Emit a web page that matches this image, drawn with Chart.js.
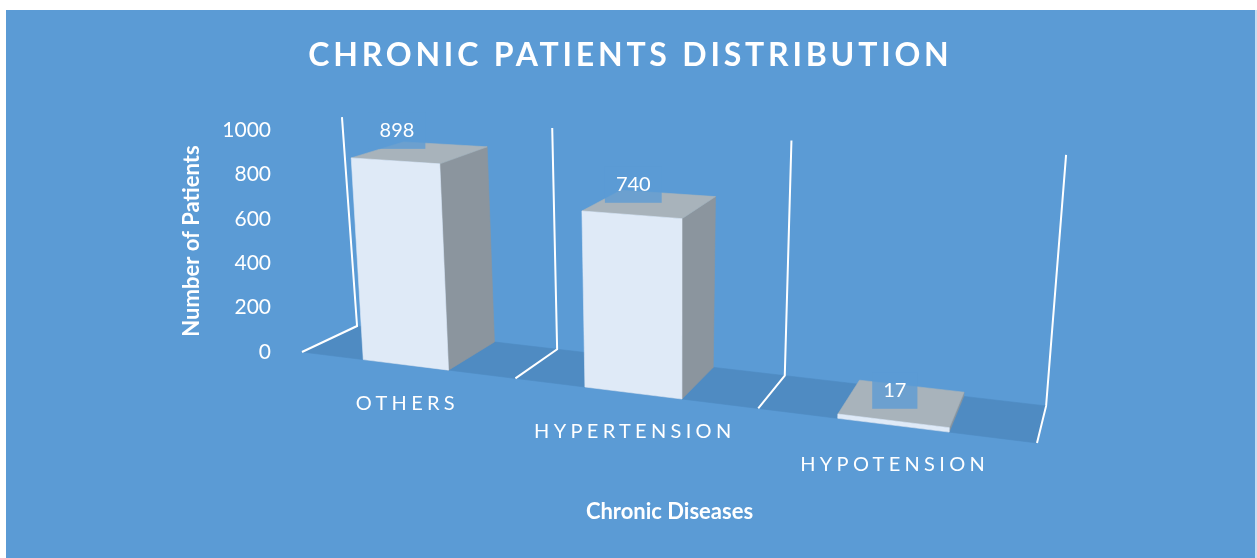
<!DOCTYPE html>
<html>
<head>
<meta charset="utf-8">
<script src="https://cdn.jsdelivr.net/npm/chart.js@4.4.1/dist/chart.umd.min.js"></script>
<style>
  html, body { margin: 0; padding: 0; background: #ffffff; overflow: hidden; }
  canvas { display: block; }
</style>
</head>
<body>
<canvas id="c" width="1257" height="558"></canvas>
<script>
// ---------------- data ----------------
const categories = ['OTHERS', 'HYPERTENSION', 'HYPOTENSION'];
const patientCounts = [898, 740, 17];
const yTickValues = [0, 200, 400, 600, 800, 1000];
const chartTitle = 'CHRONIC PATIENTS DISTRIBUTION';
const yAxisTitle = 'Number of Patients';
const xAxisTitle = 'Chronic Diseases';

// ---------------- style ----------------
const COLORS = {
  page: '#ffffff',
  background: '#5b9bd5',
  edge: '#c9ddf1',
  floor: '#4f8bc2',
  wall: '#ffffff',
  front: '#dfeaf7',
  side: '#8b959e',
  top: '#a8b3bb',
  labelBox: 'rgba(91,155,213,0.78)',
  text: '#ffffff'
};
const FONT = 'Lato, "Open Sans", "DejaVu Sans", sans-serif';

// 3-D view parameters (relative to the value-axis span)
const VIEW = {
  warp: 1.222,
  frontDrop: 0.1238,
  depthLeft: [0.248, -0.117],
  depthRight: [0.041, -0.167],
  upFrontLeft: [-0.072, -0.995],
  upFrontRight: [0.068, -1.194],
  upBackLeft: [-0.068, -0.941],
  upBackRight: [0.090, -1.131]
};

let PROJ = null;

function buildProjection(chart) {
  const xs = chart.scales.x, ys = chart.scales.y;
  const L = xs.left, R = xs.right, W = R - L;
  const y0 = ys.getPixelForValue(ys.min), y1 = ys.getPixelForValue(ys.max);
  const S = y0 - y1;
  const F0 = [L, y0];
  const F1 = [R, y0 + VIEW.frontDrop * W];
  const B0 = [F0[0] + VIEW.depthLeft[0] * S, F0[1] + VIEW.depthLeft[1] * S];
  const B1 = [F1[0] + VIEW.depthRight[0] * S, F1[1] + VIEW.depthRight[1] * S];
  const lerp = (a, b, t) => a + (b - a) * t;
  function pt(u, v, h) {
    const uw = u <= 0 ? 0 : (u >= 1 ? 1 : u / (u + VIEW.warp * (1 - u)));
    const fx = lerp(F0[0], F1[0], uw), fy = lerp(F0[1], F1[1], uw);
    const bx = lerp(B0[0], B1[0], uw), by = lerp(B0[1], B1[1], uw);
    const ufx = lerp(VIEW.upFrontLeft[0], VIEW.upFrontRight[0], uw);
    const ufy = lerp(VIEW.upFrontLeft[1], VIEW.upFrontRight[1], uw);
    const ubx = lerp(VIEW.upBackLeft[0], VIEW.upBackRight[0], uw);
    const uby = lerp(VIEW.upBackLeft[1], VIEW.upBackRight[1], uw);
    const ux = lerp(ufx, ubx, v), uy = lerp(ufy, uby, v);
    return [lerp(fx, bx, v) + ux * S * h, lerp(fy, by, v) + uy * S * h];
  }
  return {
    pt,
    u: (px) => (px - L) / W,
    h: (y, base) => (base - y) / S,
    L, R, W, S
  };
}

function poly(ctx, pts, fill) {
  ctx.beginPath();
  ctx.moveTo(pts[0][0], pts[0][1]);
  for (let i = 1; i < pts.length; i++) ctx.lineTo(pts[i][0], pts[i][1]);
  ctx.closePath();
  ctx.fillStyle = fill;
  ctx.fill();
  ctx.strokeStyle = fill;
  ctx.lineWidth = 0.6;
  ctx.stroke();
}

// ---------------- custom 3-D bar element / controller ----------------
class Bar3DElement extends Chart.BarElement {
  draw(ctx) {
    const P = PROJ;
    if (!P) return;
    const { x, y, base, width } = this.getProps(['x', 'y', 'base', 'width']);
    const u0 = P.u(x - width / 2), u1 = P.u(x + width / 2);
    const h = P.h(y, base);
    const p = P.pt;
    ctx.save();
    poly(ctx, [p(u1, 0, 0), p(u1, 1, 0), p(u1, 1, h), p(u1, 0, h)], COLORS.side);
    poly(ctx, [p(u0, 0, h), p(u1, 0, h), p(u1, 1, h), p(u0, 1, h)], COLORS.top);
    poly(ctx, [p(u0, 0, 0), p(u1, 0, 0), p(u1, 0, h), p(u0, 0, h)], this.options.backgroundColor || COLORS.front);
    ctx.restore();
  }
}
Bar3DElement.id = 'bar3d';

class Bar3DController extends Chart.BarController {}
Bar3DController.id = 'bar3d';
Bar3DController.defaults = Object.assign({}, Chart.BarController.defaults, { dataElementType: 'bar3d' });

Chart.register(Bar3DElement, Bar3DController);

// ---------------- plugins ----------------
const backgroundPlugin = {
  id: 'bg3d',
  beforeDraw(chart) {
    const ctx = chart.ctx;
    ctx.save();
    ctx.fillStyle = COLORS.page;
    ctx.fillRect(0, 0, chart.width, chart.height);
    ctx.fillStyle = COLORS.background;
    ctx.fillRect(6, 10, chart.width - 8, chart.height - 10);
    ctx.fillStyle = COLORS.edge;
    ctx.fillRect(chart.width - 2, 10, 2, chart.height - 10);
    ctx.restore();
    const tb = chart.titleBlock;
    if (tb && !tb.__spaced) {
      const orig = tb.draw;
      tb.draw = function (area) {
        const c = this.ctx;
        c.save();
        c.letterSpacing = '3.8px';
        c.translate(1.9, 0);
        orig.call(this, area);
        c.restore();
      };
      tb.__spaced = true;
    }
  },
  beforeDatasetsDraw(chart) {
    PROJ = buildProjection(chart);
    const ctx = chart.ctx, p = PROJ.pt;
    const n = chart.data.labels.length;
    ctx.save();
    poly(ctx, [p(0, 0, 0), p(1, 0, 0), p(1, 1, 0), p(0, 1, 0)], COLORS.floor);
    ctx.strokeStyle = COLORS.wall;
    ctx.lineWidth = 2;
    ctx.lineJoin = 'miter';
    for (let i = 0; i <= n; i++) {
      const u = i / n;
      const a = p(u, 0, 0), b = p(u, 1, 0), c = p(u, 1, 1);
      ctx.beginPath();
      ctx.moveTo(a[0], a[1]);
      ctx.lineTo(b[0], b[1]);
      ctx.lineTo(c[0], c[1]);
      ctx.stroke();
    }
    ctx.restore();
  },
  afterDatasetsDraw(chart) {
    const P = PROJ;
    if (!P) return;
    const ctx = chart.ctx;
    const meta = chart.getDatasetMeta(0);
    const values = chart.data.datasets[0].data;
    const xs = chart.scales.x;
    ctx.save();
    ctx.font = '20px ' + FONT;
    ctx.textAlign = 'center';
    ctx.textBaseline = 'middle';
    meta.data.forEach((el, i) => {
      const { x, y, base } = el.getProps(['x', 'y', 'base']);
      const a = P.pt(P.u(x), 0, P.h(y, base));
      const txt = String(values[i]);
      const tw = ctx.measureText(txt).width;
      ctx.fillStyle = COLORS.labelBox;
      ctx.fillRect(a[0] + 2 - tw / 2 - 11, a[1] - 48, tw + 22, 36);
      ctx.fillStyle = COLORS.text;
      ctx.fillText(txt, a[0] + 2, a[1] - 30);
    });
    ctx.font = '20px ' + FONT;
    ctx.letterSpacing = '4.3px';
    ctx.fillStyle = COLORS.text;
    xs.getLabels().forEach((lab, i) => {
      const a = P.pt(P.u(xs.getPixelForValue(i)), 0, 0);
      ctx.fillText(lab, a[0] + 2, a[1] + 39);
    });
    ctx.restore();
  }
};

// ---------------- chart ----------------
new Chart(document.getElementById('c'), {
  type: 'bar3d',
  data: {
    labels: categories,
    datasets: [{
      label: 'Number of Patients',
      data: patientCounts,
      backgroundColor: COLORS.front,
      categoryPercentage: 0.4,
      barPercentage: 1.0,
      clip: false
    }]
  },
  options: {
    responsive: false,
    animation: false,
    devicePixelRatio: 1,
    font: { family: FONT },
    layout: { padding: 0 },
    plugins: {
      legend: { display: false },
      tooltip: { enabled: false },
      title: {
        display: true,
        text: chartTitle,
        color: COLORS.text,
        font: { family: FONT, size: 32, weight: 'bold', lineHeight: 1.2 },
        padding: { top: 36.8, bottom: 54.8 }
      }
    },
    scales: {
      x: {
        type: 'category',
        offset: true,
        grid: { display: false, drawTicks: false },
        border: { display: false },
        ticks: { display: false },
        title: {
          display: true,
          text: xAxisTitle,
          color: COLORS.text,
          font: { family: FONT, size: 22, weight: 'bold', lineHeight: 1.2 },
          padding: { top: 0, bottom: 33 }
        },
        afterFit(scale) { scale.height = 206; }
      },
      y: {
        min: 0,
        max: 1000,
        afterBuildTicks(scale) { scale.ticks = yTickValues.map(v => ({ value: v })); },
        grid: { display: false, drawTicks: false },
        border: { display: false },
        ticks: {
          color: COLORS.text,
          font: { family: FONT, size: 21 },
          padding: 31,
          callback: (v) => String(v)
        },
        title: {
          display: true,
          text: yAxisTitle,
          color: COLORS.text,
          font: { family: FONT, size: 22, weight: 'bold', lineHeight: 1.2 },
          padding: { top: 179, bottom: 0 }
        },
        afterFit(scale) { scale.width = 302; }
      },
      rightSpace: {
        type: 'linear',
        position: 'right',
        display: true,
        grid: { display: false, drawTicks: false },
        border: { display: false },
        ticks: { display: false },
        afterFit(scale) { scale.width = 220; }
      }
    }
  },
  plugins: [backgroundPlugin]
});
</script>
</body>
</html>
